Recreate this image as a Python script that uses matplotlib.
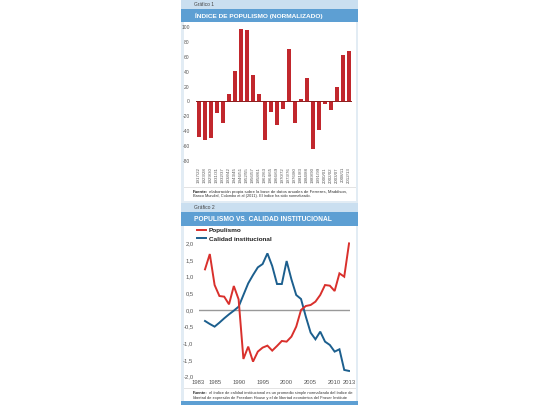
import matplotlib
matplotlib.use("Agg")
import matplotlib.pyplot as plt
from matplotlib.patches import Rectangle
from matplotlib.ticker import FuncFormatter

# ---------------- data ----------------
periods = ["1917/22", "1923/28", "1929/30", "1931/31", "1932/37", "1938/42", "1943/45",
           "1946/51", "1952/55", "1956/57", "1958/61", "1962/63", "1964/65", "1966/69",
           "1970/72", "1973/76", "1976/80", "1981/83", "1984/88", "1989/90", "1991/99",
           "2000/01", "2002/02", "2003/07", "2008/11", "2012/13"]
populism_index = [-48, -52, -50, -15, -29, 10, 41, 98, 96, 35, 10, -52, -14, -32,
                  -10, 71, -29, 3, 31, -64, -39, -3, -11, 19, 62, 68]
bar_yticks = [100, 80, 60, 40, 20, 0, -20, -40, -60, -80]

years = list(range(1983, 2014))
populismo = [1.22, 1.68, 0.75, 0.42, 0.40, 0.17, 0.72, 0.32, -1.47, -1.10,
             -1.55, -1.25, -1.13, -1.07, -1.22, -1.08, -0.93, -0.95, -0.80, -0.50,
             0.00, 0.12, 0.15, 0.25, 0.45, 0.75, 0.73, 0.57, 1.10, 1.00, 2.00]
calidad = [-0.33, -0.42, -0.50, -0.38, -0.25, -0.13, -0.02, 0.10, 0.45, 0.80,
           1.05, 1.28, 1.38, 1.70, 1.32, 0.78, 0.78, 1.47, 0.92, 0.45,
           0.33, -0.20, -0.68, -0.88, -0.65, -0.95, -1.05, -1.25, -1.18, -1.80, -1.83]
line_xticks = [1983, 1985, 1990, 1995, 2000, 2005, 2010, 2013]
line_yticks = [2.0, 1.5, 1.0, 0.5, 0.0, -0.5, -1.0, -1.5, -2.0]

# ---------------- style ----------------
W, H = 540, 405
RED_BAR = "#c1272d"
RED_LINE = "#d9302c"
BLUE_LINE = "#1c5f8e"
BAND_DARK = "#5d9fd3"
BAND_LIGHT = "#cadff0"
FRAME = "#e2ecf4"
TICK_C = "#555555"
COND = ["Liberation Sans Narrow", "Liberation Sans", "DejaVu Sans"]

fig = plt.figure(figsize=(W / 100, H / 100), dpi=100)
fig.patch.set_facecolor("white")


def fx(x):
    return x / W


def fy(y):
    return 1 - y / H


def rect(x0, y0, x1, y1, color, z=0):
    fig.patches.append(Rectangle((fx(x0), fy(y1)), fx(x1) - fx(x0), fy(y0) - fy(y1),
                                 transform=fig.transFigure, facecolor=color,
                                 edgecolor="none", zorder=z))


renderer = fig.canvas.get_renderer()


def fit_text(x, y, s, width_px, size=5, **kw):
    t = fig.text(fx(x), fy(y), s, fontsize=size, va="center", ha="left", **kw)
    bb = t.get_window_extent(renderer)
    if bb.width > 0:
        t.set_fontsize(size * width_px / bb.width)
    return t


def source(x, y, rest, width_px, size=3.2):
    b = fig.text(fx(x), fy(y), "Fuente:", fontsize=size, fontweight="bold",
                 va="center", ha="left", family=COND, color="#222222")
    r = fig.text(fx(x), fy(y), " " + rest, fontsize=size, va="center", ha="left",
                 family=COND, color="#333333")
    wb = b.get_window_extent(renderer).width
    wr = r.get_window_extent(renderer).width
    scale = width_px / (wb + wr)
    b.set_fontsize(size * scale)
    r.set_fontsize(size * scale)
    wb = b.get_window_extent(renderer).width
    r.set_x(fx(x + wb))


def plain(x, y, s, width_px, size=3.2):
    fit_text(x, y, s, width_px, size=size, family=COND, color="#333333")


# background panel
rect(180.5, 0, 358, 405, FRAME, z=0)
rect(184, 22, 356, 201, "white", z=0.1)
rect(184, 226, 356, 401, "white", z=0.1)
# headers
rect(180.5, 0, 358, 9.5, BAND_LIGHT, z=0.2)
rect(180.5, 9.5, 358, 22, BAND_DARK, z=0.2)
rect(180.5, 203, 358, 212, BAND_LIGHT, z=0.2)
rect(180.5, 212, 358, 226, BAND_DARK, z=0.2)
rect(180.5, 401, 358, 405, BAND_DARK, z=0.2)
# separators
rect(184, 186.5, 356, 187.5, "#e3e3e3", z=0.3)
rect(184, 387.5, 356, 388.5, "#e3e3e3", z=0.3)

fit_text(194, 4.8, "Gráfico 1", 20, size=4, family=COND, color="#444444")
fit_text(195, 15.8, "ÍNDICE DE POPULISMO (NORMALIZADO)", 128, size=6.5,
         family=COND, fontweight="bold", color="white")
fit_text(194, 207.5, "Gráfico 2", 20, size=4, family=COND, color="#444444")
fit_text(194, 219.5, "POPULISMO VS. CALIDAD INSTITUCIONAL", 136, size=6.5,
         family=COND, fontweight="bold", color="white")

source(193, 191.8, "elaboración propia sobre la base de datos anuales de Ferreres, Maddison,", 152)
plain(193, 196.0, "Banco Mundial, Colombo et al (2011). El índice ha sido normalizado.", 114)
source(193, 393.2, "el índice de calidad institucional es un promedio simple normalizado del índice de", 157)
plain(193, 397.6, "libertad de expresión de Freedom House y el de libertad económica del Fraser Institute", 150)

# ---------------- chart 1: bars ----------------
ax1 = fig.add_axes([fx(196), fy(164), fx(352) - fx(196), fy(22) - fy(164)])
ax1.set_facecolor("none")
ax1.set_zorder(2)
xpos = list(range(len(periods)))
ax1.bar(xpos, populism_index, width=0.6, color=RED_BAR, zorder=2)
ax1.axhline(0, color="#8b1a1a", lw=0.7, zorder=3)
ax1.set_xlim(-0.5, len(periods) - 0.5)
ax1.set_ylim(-84.5, 107.2)
ax1.set_yticks(bar_yticks)
ax1.set_yticklabels([str(v) for v in bar_yticks])
ax1.set_xticks(xpos)
ax1.set_xticklabels(periods, rotation=90)
for s in ax1.spines.values():
    s.set_visible(False)
ax1.tick_params(axis="y", length=0, pad=4.5, labelsize=3.6, labelcolor=TICK_C)
ax1.tick_params(axis="x", length=0, pad=2.2, labelsize=3.2, labelcolor=TICK_C)
for lab in ax1.get_xticklabels() + ax1.get_yticklabels():
    lab.set_family(COND)

# ---------------- chart 2: lines ----------------
ax2 = fig.add_axes([fx(199), fy(377), fx(350) - fx(199), fy(228) - fy(377)])
ax2.set_facecolor("none")
ax2.set_zorder(2)
ax2.axhline(0, color="#999999", lw=1.0, zorder=1)
l1, = ax2.plot(years, populismo, color=RED_LINE, lw=1.4, zorder=3,
               solid_joinstyle="miter")
l2, = ax2.plot(years, calidad, color=BLUE_LINE, lw=1.4, zorder=2,
               solid_joinstyle="miter")
ax2.set_xlim(1981.75, 2013.2)
ax2.set_ylim(-2.012, 2.462)
ax2.set_yticks(line_yticks)
ax2.yaxis.set_major_formatter(FuncFormatter(lambda v, p: f"{v:.1f}".replace(".", ",")))
ax2.set_xticks(line_xticks)
ax2.set_xticklabels([str(y) for y in line_xticks])
for s in ax2.spines.values():
    s.set_visible(False)
ax2.tick_params(axis="y", length=0, pad=4.0, labelsize=4.2, labelcolor=TICK_C)
ax2.tick_params(axis="x", length=0, pad=2.0, labelsize=4.2, labelcolor=TICK_C)
for lab in ax2.get_xticklabels() + ax2.get_yticklabels():
    lab.set_family(COND)
xl = ax2.get_xticklabels()
xl[0].set_horizontalalignment("right")
for lab in xl[1:]:
    lab.set_horizontalalignment("center")

leg = ax2.legend([l1, l2], ["Populismo", "Calidad institucional"],
                 loc="upper left", bbox_to_anchor=(fx(195.5), fy(226.5)),
                 bbox_transform=fig.transFigure, frameon=False,
                 prop={"family": COND, "weight": "bold", "size": 4.6},
                 handlelength=1.5, handletextpad=0.35, labelspacing=0.45,
                 borderpad=0.2, borderaxespad=0)
for t in leg.get_texts():
    t.set_color("#222222")

fig.savefig("out.png", dpi=100, facecolor="white")
